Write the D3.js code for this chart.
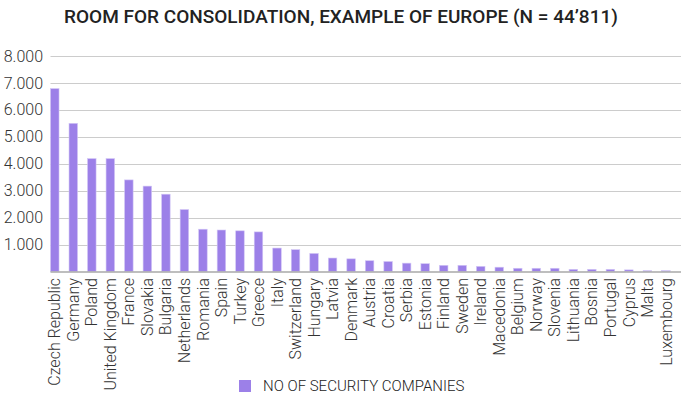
<!DOCTYPE html>
<html>
<head>
<meta charset="utf-8">
<script src="https://cdn.jsdelivr.net/npm/d3@7"></script>
<style>
  body { margin: 0; background: #fff; }
  svg { font-family: Roboto, "Noto Sans", sans-serif; }
</style>
</head>
<body>
<svg width="682" height="395"></svg>
<script>
// countries and number of security companies
var countries = ["Czech Republic", "Germany", "Poland", "United Kingdom", "France", "Slovakia",
  "Bulgaria", "Netherlands", "Romania", "Spain", "Turkey", "Greece", "Italy", "Switzerland",
  "Hungary", "Latvia", "Denmark", "Austria", "Croatia", "Serbia", "Estonia", "Finland",
  "Sweden", "Ireland", "Macedonia", "Belgium", "Norway", "Slovenia", "Lithuania", "Bosnia",
  "Portugal", "Cyprus", "Malta", "Luxembourg"];
var companies = [6790, 5500, 4190, 4190, 3400, 3170, 2870, 2300, 1570, 1540, 1510, 1470, 870,
  810, 670, 500, 470, 400, 370, 310, 290, 230, 230, 190, 160, 120, 120, 120, 80, 80, 80, 60, 30, 30];
var yTicks = [1000, 2000, 3000, 4000, 5000, 6000, 7000, 8000];
var titleText = "ROOM FOR CONSOLIDATION, EXAMPLE OF EUROPE (N = 44\u2019811)";
var legendText = "NO OF SECURITY COMPANIES";

var svg = d3.select("svg");
var barColor = "#9c80e8";

var x = d3.scaleBand()
    .domain(countries)
    .range([50.5, 680.2])
    .paddingInner(0.54)
    .paddingOuter(0.27)
    .align(0);

var y = d3.scaleLinear()
    .domain([0, 8000])
    .range([271.5, 56]);

var fmt = d3.formatLocale({ decimal: ",", thousands: ".", grouping: [3], currency: ["", ""] }).format(",d");

// title
svg.append("text")
    .attr("x", 341)
    .attr("y", 23)
    .attr("text-anchor", "middle")
    .style("font-size", "19px")
    .style("font-weight", 500)
    .style("fill", "#222")
    .text(titleText);

// gridlines + y labels
var yAxis = svg.append("g").attr("class", "y-axis");
yAxis.selectAll("line")
    .data(yTicks)
    .enter()
    .append("line")
    .attr("x1", 50.5)
    .attr("x2", 681)
    .attr("y1", d => Math.round(y(d)) + 0.5)
    .attr("y2", d => Math.round(y(d)) + 0.5)
    .style("stroke", "#cccccc")
    .style("stroke-width", 1);

yAxis.selectAll("text")
    .data(yTicks)
    .enter()
    .append("text")
    .attr("x", 43)
    .attr("y", d => y(d))
    .attr("dy", "0.35em")
    .attr("text-anchor", "end")
    .style("font-size", "16px")
    .style("font-weight", 300)
    .style("fill", "#333")
    .text(d => fmt(d));

// bars
svg.append("g")
    .selectAll("rect")
    .data(companies)
    .enter()
    .append("rect")
    .attr("x", (d, i) => x(countries[i]))
    .attr("width", x.bandwidth())
    .attr("y", d => y(d))
    .attr("height", d => y(0) - y(d))
    .style("fill", barColor)
    .style("stroke", "#d2c6f6")
    .style("stroke-width", 0.6);

// baseline
svg.append("line")
    .attr("x1", 50.5)
    .attr("x2", 681)
    .attr("y1", y(0) + 0.5)
    .attr("y2", y(0) + 0.5)
    .style("stroke", "#a8a8a8")
    .style("stroke-width", 1.5);

// x labels, rotated
svg.append("g")
    .selectAll("text")
    .data(countries)
    .enter()
    .append("text")
    .attr("transform", d => "translate(" + (x(d) + x.bandwidth() / 2) + ",278) rotate(-90)")
    .attr("dy", "0.35em")
    .attr("text-anchor", "end")
    .style("font-size", "16px")
    .style("font-weight", 300)
    .style("fill", "#333")
    .text(d => d);

// legend
var legend = svg.append("g").attr("transform", "translate(239,380)");
legend.append("rect")
    .attr("width", 12)
    .attr("height", 12)
    .style("fill", barColor);
legend.append("text")
    .attr("x", 24)
    .attr("y", 6)
    .attr("dy", "0.35em")
    .style("font-size", "15px")
    .style("font-weight", 300)
    .style("fill", "#222")
    .text(legendText);
</script>
</body>
</html>
